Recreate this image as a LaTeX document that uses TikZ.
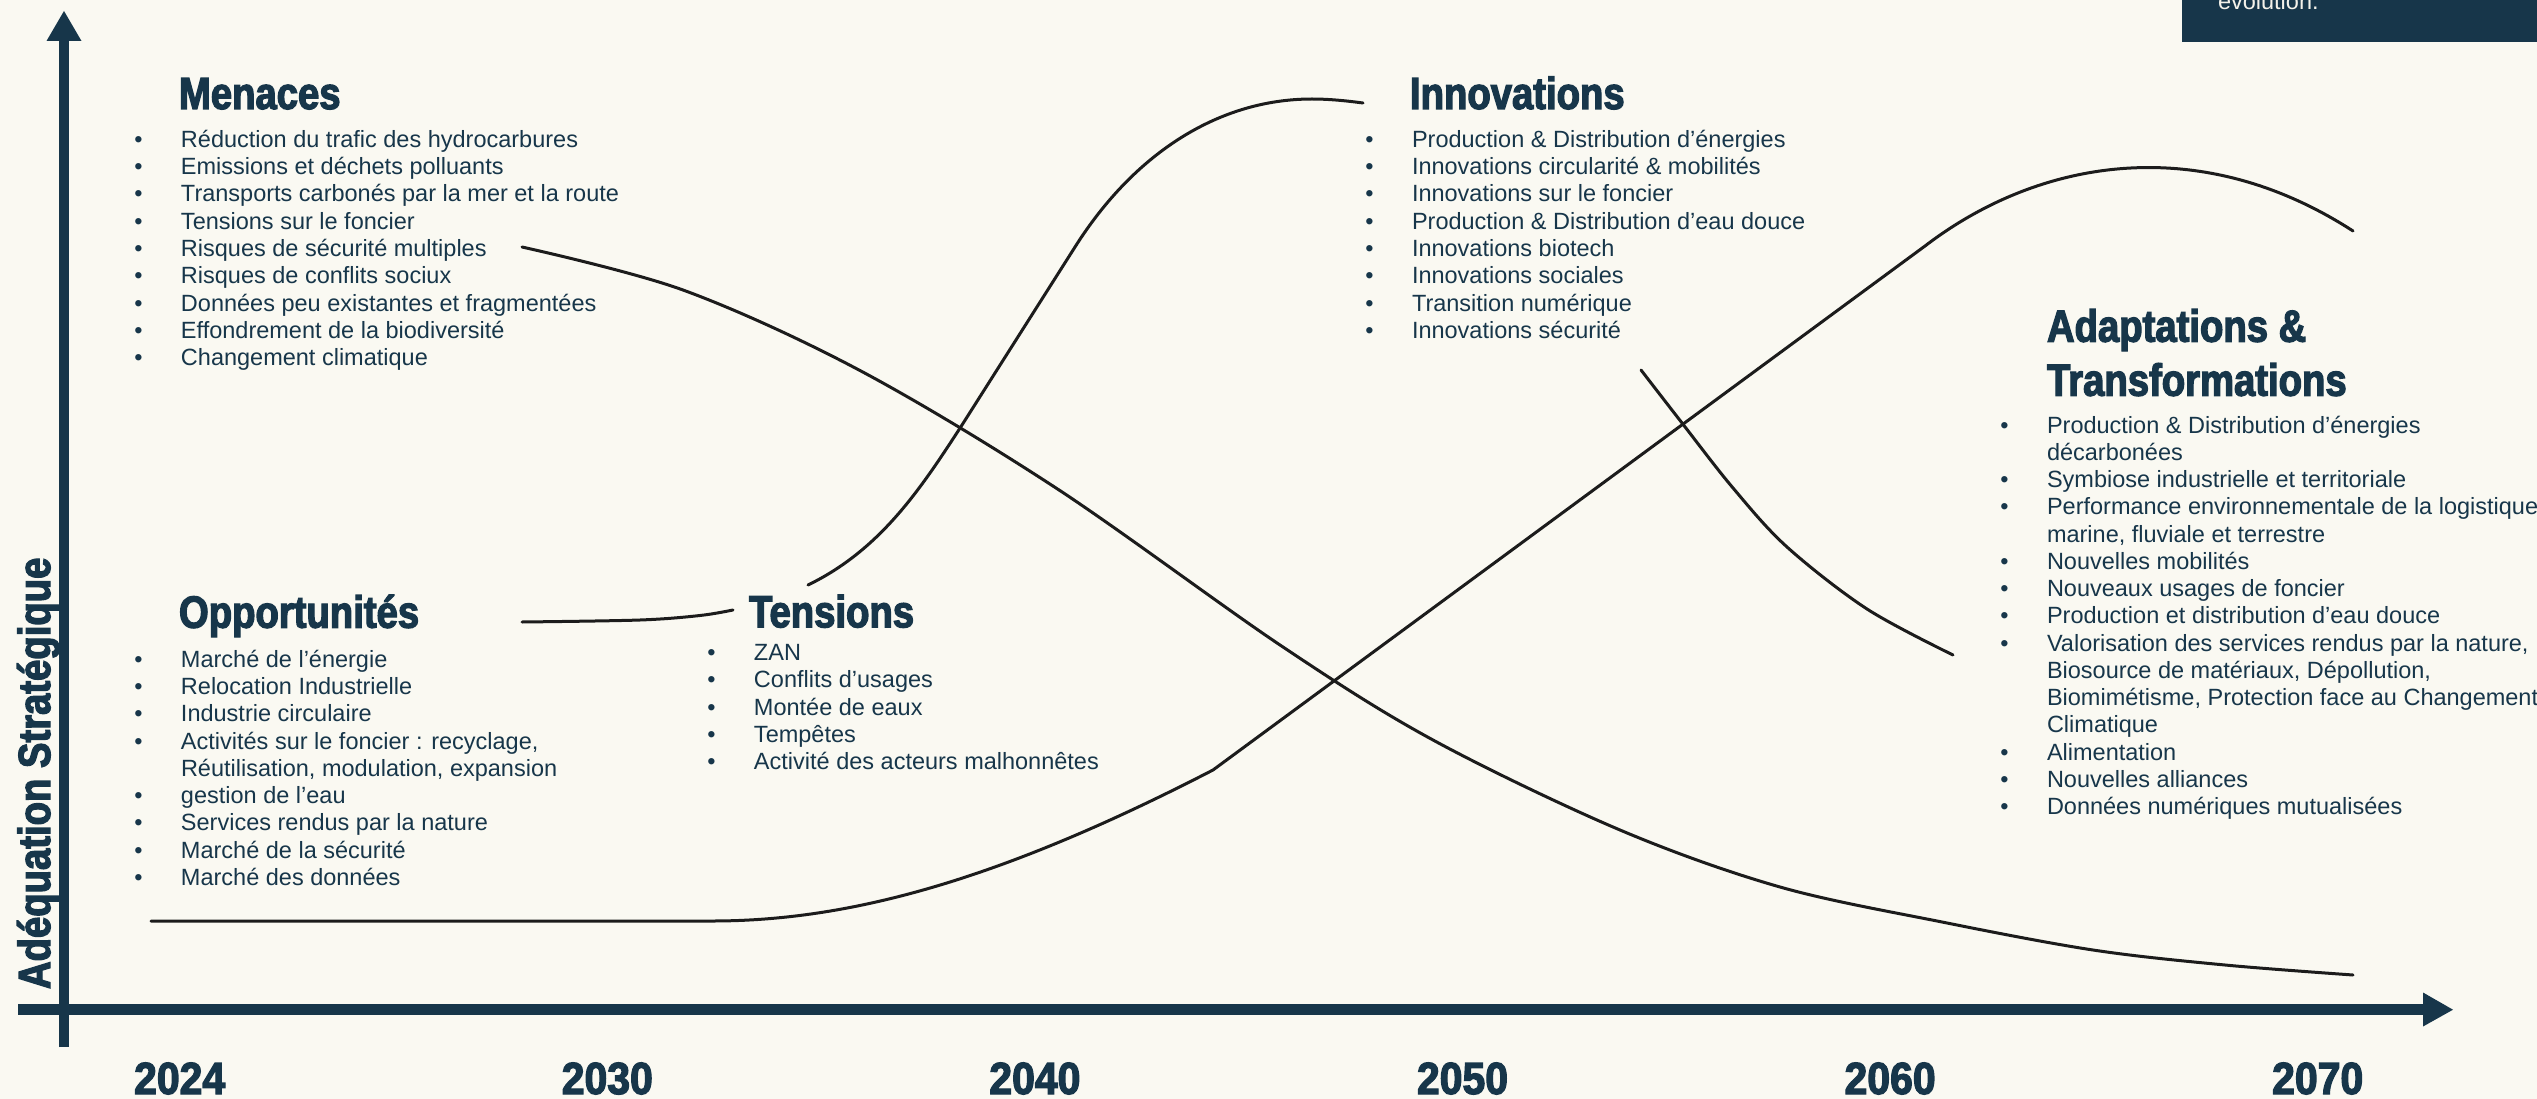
\documentclass[tikz,border=0pt]{standalone}
\usepackage{fontspec}
\setmainfont{Liberation Sans}
\newfontfamily\headfont[FakeStretch=0.85,FakeBold=2.8]{Liberation Sans Bold}
\newfontfamily\yearfont[FakeStretch=0.91,FakeBold=2.8]{Liberation Sans Bold}
\definecolor{navy}{HTML}{17364A}
\definecolor{paper}{HTML}{FAF9F2}
\definecolor{ink}{HTML}{1C1C1C}
\definecolor{cream}{HTML}{F4F2EA}

\tikzset{
  head/.style={font=\headfont\fontsize{45}{54}\selectfont, text=navy, inner sep=0pt, outer sep=0pt, anchor=base west},
  itemtxt/.style={font=\fontsize{23.5}{27.25}\selectfont, text=navy, inner sep=0pt, outer sep=0pt, anchor=base west},
  year/.style={font=\yearfont\fontsize{45}{54}\selectfont, text=navy, inner sep=0pt, anchor=base},
  curve/.style={draw=ink, line width=3pt, line cap=round, line join=round},
  axis/.style={draw=navy, line width=10.5pt},
}
% bullet centred 42.5pt left of the item text
\newcommand\B{\llap{\makebox[0pt]{•}\hspace{42.5pt}}}
% one node per printed line: prefix, text left x, first baseline y, lines
\newcommand\bulletlist[4]{%
  \foreach \t [count=\i] in {#4}{
    \node[itemtxt] (#1-\i) at (#2, {#3+27.25*(\i-1)}) {\t};
  }}

\begin{document}
\begin{tikzpicture}[x=1pt,y=-1pt]
\useasboundingbox (0,0) rectangle (2537,1099);
\fill[paper] (0,0) rectangle (2537,1099);

% legend box in the top right corner
\fill[navy] (2182,-2) rectangle (2539,42);
\node[itemtxt, text=cream] (note) at (2218,9.3) {evolution.};

% axes
\draw[axis] (64,1047) -- (64,38);
\fill[navy] (46.5,41) -- (81.5,41) -- (64,11) -- cycle;
\draw[axis] (18,1009.7) -- (2425,1009.7);
\fill[navy] (2423,992.5) -- (2423,1026.5) -- (2453,1009.7) -- cycle;

\node[head, rotate=90] (ylab) at (50,989) {Adéquation Stratégique};

% years
\foreach \yr [count=\k from 0] in {2024,2030,2040,2050,2060,2070}
  \node[year] (y\yr) at ({179.7+427.6*\k},1094) {\yr};

% threats: falling curve
\draw[curve] plot[smooth, tension=0.55] coordinates {
  (522,247) (683,290) (859,370) (1056,488) (1280,645) (1433,740)
  (1620,830) (1780,887) (1942,922) (2093,950) (2225,965) (2353,975)};

% opportunities -> innovations, broken around the Tensions heading
\draw[curve] plot[smooth, tension=0.55] coordinates {
  (522,622) (640,620) (700,615.5) (733,610)};
\draw[curve] (808,585) .. controls (880,550) and (920,490) .. (962,425)
  -- (1075,247) .. controls (1135,152) and (1220,99) .. (1312,99)
  .. controls (1330,99) and (1348,101) .. (1363,103);

% adaptations: rising curve
\draw[curve] (151,921) -- (712,921) .. controls (850,921) and (1000,880) .. (1213,770)
  -- (1925,246) .. controls (2040,158) and (2200,132) .. (2353,231);

% innovations -> adaptations
\draw[curve] plot[smooth, tension=0.55] coordinates {
  (1641,370) (1682,423) (1733,488) (1787,547) (1867,609) (1953,655)};

% Menaces
\node[head] (menaces) at (179,109) {Menaces};
\bulletlist{m}{181}{147.5}{
  \B Réduction du trafic des hydrocarbures,
  \B Emissions et déchets polluants,
  \B Transports carbonés par la mer et la route,
  \B Tensions sur le foncier,
  \B Risques de sécurité multiples,
  \B Risques de conflits sociux,
  \B Données peu existantes et fragmentées,
  \B Effondrement de la biodiversité,
  \B Changement climatique}

% Innovations
\node[head] (innov) at (1410,109) {Innovations};
\bulletlist{i}{1412}{147.5}{
  \B Production \& Distribution d’énergies,
  \B Innovations circularité \& mobilités,
  \B Innovations sur le foncier,
  \B Production \& Distribution d’eau douce,
  \B Innovations biotech,
  \B Innovations sociales,
  \B Transition numérique,
  \B Innovations sécurité}

% Opportunites
\node[head] (opp) at (179,627.7) {Opportunités};
\bulletlist{o}{181}{667.3}{
  \B Marché de l’énergie,
  \B Relocation Industrielle,
  \B Industrie circulaire,
  {\B Activités sur le foncier : recyclage,},
  {Réutilisation, modulation, expansion},
  \B gestion de l’eau,
  \B Services rendus par la nature,
  \B Marché de la sécurité,
  \B Marché des données}

% Tensions
\node[head] (tens) at (749,627.3) {Tensions};
\bulletlist{t}{754}{660.5}{
  \B ZAN,
  \B Conflits d’usages,
  \B Montée de eaux,
  \B Tempêtes,
  \B Activité des acteurs malhonnêtes}

% Adaptations & Transformations
\node[head] (adapt1) at (2047,341.7) {Adaptations \&};
\node[head] (adapt2) at (2047,395.7) {Transformations};
\bulletlist{a}{2047}{433}{
  \B Production \& Distribution d’énergies,
  décarbonées,
  \B Symbiose industrielle et territoriale,
  \B Performance environnementale de la logistique,
  {marine, fluviale et terrestre},
  \B Nouvelles mobilités,
  \B Nouveaux usages de foncier,
  \B Production et distribution d’eau douce,
  {\B Valorisation des services rendus par la nature,},
  {Biosource de matériaux, Dépollution,},
  {Biomimétisme, Protection face au Changement},
  Climatique,
  \B Alimentation,
  \B Nouvelles alliances,
  \B Données numériques mutualisées}
\end{tikzpicture}
\end{document}
